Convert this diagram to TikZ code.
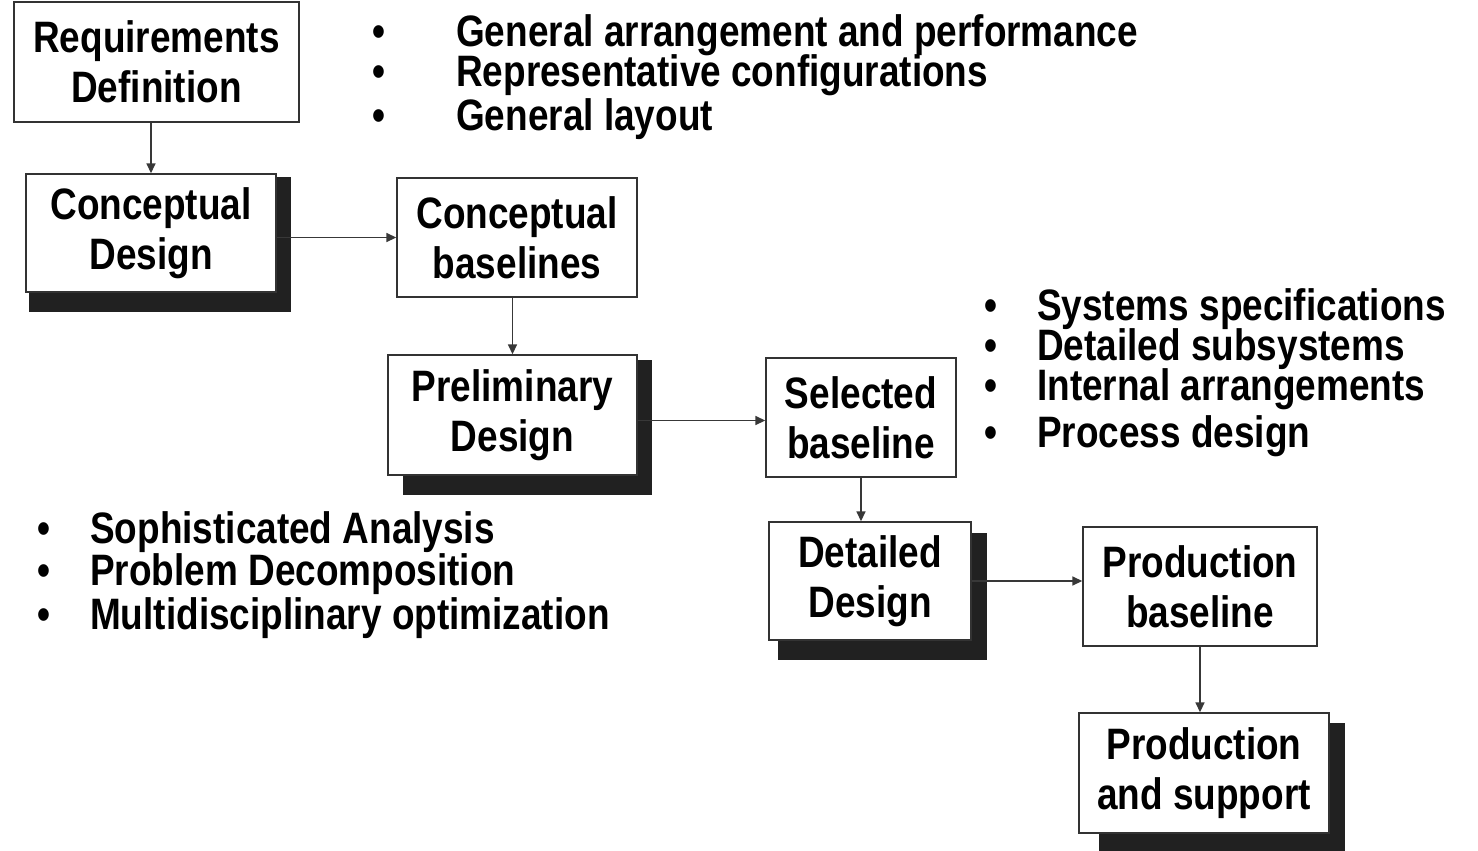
\documentclass[tikz,border=0pt]{standalone}
\usepackage{fontspec}
\newfontfamily\dfont{Liberation Sans}[FakeStretch=0.84]
\usetikzlibrary{arrows.meta}
\tikzset{
  dtext/.style={font=\dfont\bfseries\fontsize{44}{50}\selectfont},
  box/.style 2 args={dtext, draw=black!80, line width=1.4pt, fill=white, align=center,
    inner sep=0pt, minimum width=#1pt, minimum height=#2pt},
  shade/.style={fill=black!87},
  arr/.style={draw=black!78, line width=1.6pt, -{Triangle[length=10pt,width=9pt]}},
  txt/.style={dtext, anchor=base west, inner sep=0pt},
  bul/.style={dtext, anchor=base, inner sep=0pt},
}
\begin{document}
\begin{tikzpicture}[x=1pt,y=-1pt]
\useasboundingbox (0,0) rectangle (1478,851);
% shadows
\fill[shade] (29,177) rectangle (291,312);
\fill[shade] (403,360) rectangle (652,495);
\fill[shade] (778,533) rectangle (987,660);
\fill[shade] (1099,723) rectangle (1345,851);
% boxes
\node[box={285}{120}] (req) at (156.5,62) {Requirements\\Definition};
\node[box={250}{118}] (cd) at (151,233) {Conceptual\\Design};
\node[box={240}{119}] (cb) at (517,237.5) {Conceptual\\baselines};
\node[box={249}{120}] (pd) at (512.5,415) {Preliminary\\Design};
\node[box={190}{119}] (sb) at (861,417.5) {Selected\\baseline};
\node[box={202}{118}] (dd) at (870,581) {Detailed\\Design};
\node[box={234}{119}] (pb) at (1200,586.5) {Production\\baseline};
\node[box={250}{120}] (ps) at (1204,773) {Production\\and support};
% connectors
\draw[arr] (req.south -| cd.north) -- (cd.north);
\draw[arr] (cd.east |- cb.west) -- (cb.west);
\draw[arr] (cb.south -| pd.north) -- (pd.north);
\draw[arr] ([yshift=-3pt]pd.east |- sb.west) -- ([yshift=-3pt]sb.west);
\draw[arr] (sb.south) -- (sb.south |- dd.north);
\draw[arr] (dd.east) -- (dd.east -| pb.west);
\draw[arr] (pb.south) -- (pb.south |- ps.north);
% top bullets
\node[bul] (b1) at (379,47) {•};
\node[bul] (b2) at (379,87) {•};
\node[bul] (b3) at (379,130) {•};
\node[txt] (t1) at (456,47) {General arrangement and performance};
\node[txt] (t2) at (456,87) {Representative configurations};
\node[txt] (t3) at (456,130) {General layout};
% right bullets
\node[bul] (r1) at (991,320) {•};
\node[bul] (r2) at (991,360) {•};
\node[bul] (r3) at (991,400) {•};
\node[bul] (r4) at (991,447) {•};
\node[txt] (s1) at (1037,320) {Systems specifications};
\node[txt] (s2) at (1037,360) {Detailed subsystems};
\node[txt] (s3) at (1037,400) {Internal arrangements};
\node[txt] (s4) at (1037,447) {Process design};
% left bullets
\node[bul] (l1) at (44,543) {•};
\node[bul] (l2) at (44,585) {•};
\node[bul] (l3) at (44,629) {•};
\node[txt] (u1) at (90,543) {Sophisticated Analysis};
\node[txt] (u2) at (90,585) {Problem Decomposition};
\node[txt] (u3) at (90,629) {Multidisciplinary optimization};
\end{tikzpicture}
\end{document}
